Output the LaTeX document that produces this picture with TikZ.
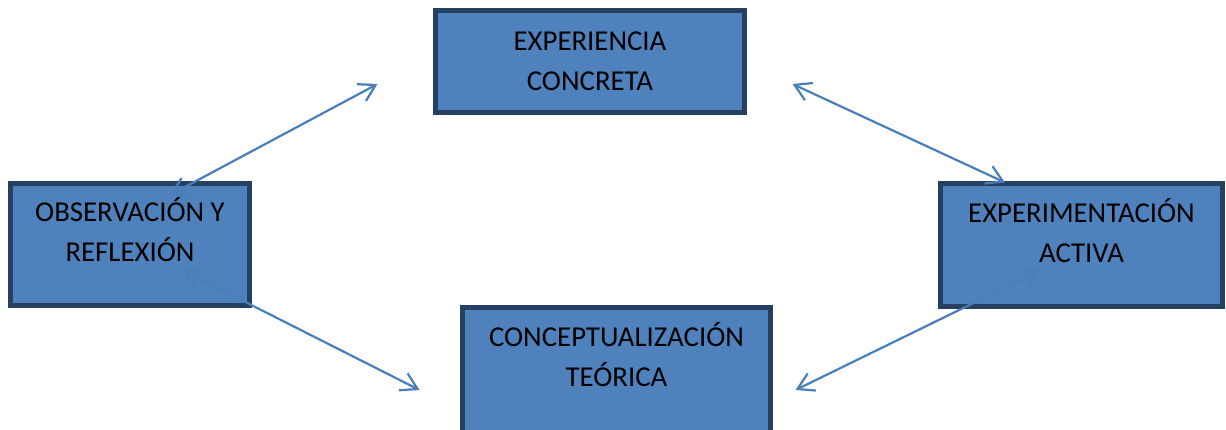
\documentclass[tikz,border=0pt]{standalone}
\usepackage{fontspec}
\setmainfont{Carlito}
\usetikzlibrary{arrows.meta}
\definecolor{boxfill}{RGB}{79,129,189}
\definecolor{boxline}{RGB}{38,64,97}
\definecolor{linkblue}{RGB}{74,126,187}
\tikzset{
  stage/.style={draw=boxline, line width=5pt, fill=boxfill, align=center,
    inner sep=0pt, font=\fontsize{28.8}{40}\selectfont},
  link/.style={linkblue, line width=2.2pt,
    {Straight Barb[length=16pt,width=19pt]}-{Straight Barb[length=16pt,width=19pt]}}
}
\begin{document}
\begin{tikzpicture}[x=1pt, y=-1pt]
      \useasboundingbox (0,0) rectangle (1226,430);
      \node[stage, minimum width=309pt, minimum height=102pt] (exp) at (590,61.5) {EXPERIENCIA\\CONCRETA};
      \node[stage, minimum width=239pt, minimum height=122pt, text depth=30pt] (obs) at (130,244.5) {OBSERVACIÓN Y\\REFLEXIÓN};
      \node[stage, minimum width=282pt, minimum height=123pt, text depth=30pt] (act) at (1081.5,245) {EXPERIMENTACIÓN\\ACTIVA};
      \node[stage, minimum width=308pt, minimum height=133pt, text depth=40pt] (con) at (616.5,374) {CONCEPTUALIZACIÓN\\TEÓRICA};
      \begin{scope}[link]
        \draw ([shift={(40,14)}]obs.north) to ([shift={(-55.5,22.5)}]exp.west);
        \draw ([shift={(45.5,22.5)}]exp.east) to ([shift={(-76.5,1.5)}]act.north);
        \draw ([shift={(53,-37.5)}]obs.south) to ([shift={(-40.5,16)}]con.west);
        \draw ([shift={(-41.5,-38.5)}]act.south) to ([shift={(22.5,16)}]con.east);
      \end{scope}
    \end{tikzpicture}
\end{document}
